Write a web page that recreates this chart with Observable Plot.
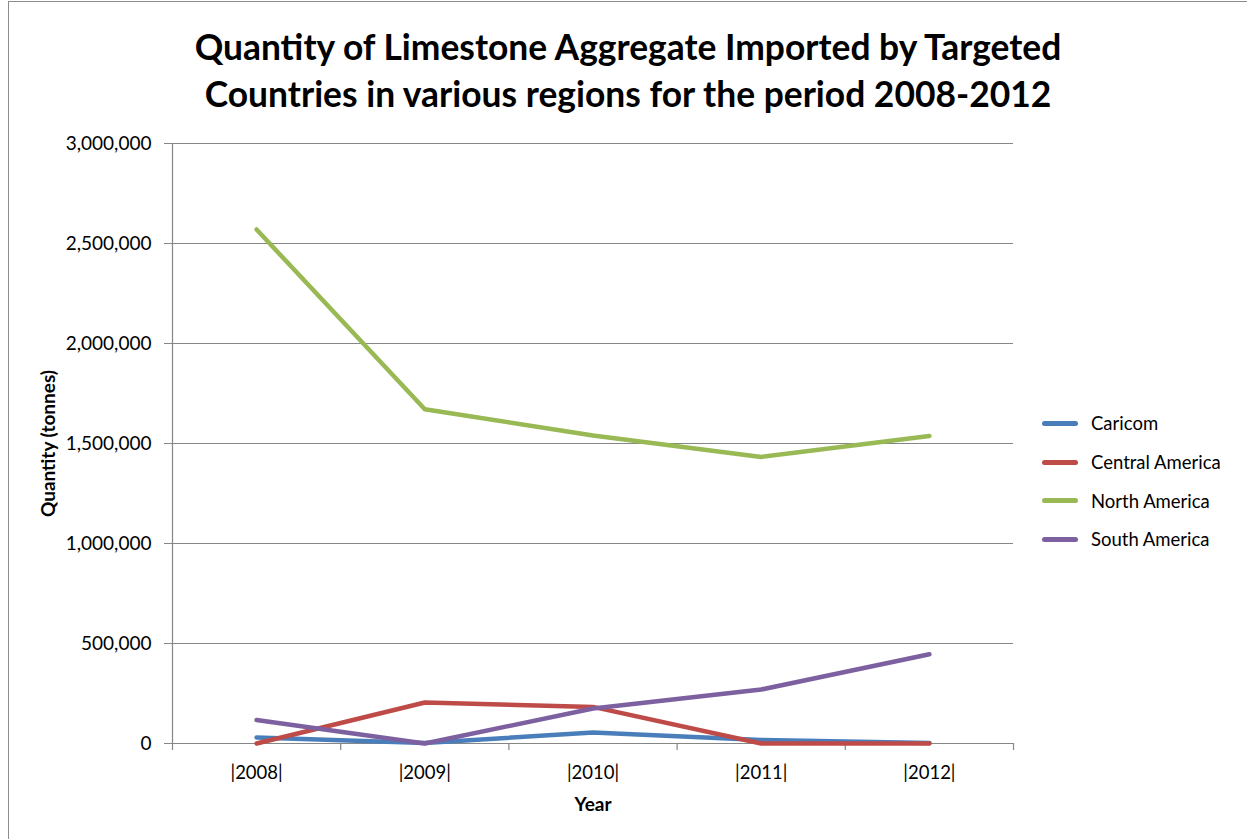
<!DOCTYPE html>
<html>
<head>
<meta charset="utf-8">
<script src="https://cdn.jsdelivr.net/npm/d3@7"></script>
<script src="https://cdn.jsdelivr.net/npm/@observablehq/plot@0.6"></script>
<style>
  html, body { margin: 0; padding: 0; background: #fff; }
  #chart { position: relative; width: 1247px; height: 839px; overflow: hidden; font-family: Lato, "Open Sans", sans-serif; }
  #frame { position: absolute; left: 8px; top: 1px; width: 1260px; height: 860px; border: 1px solid #8c8c8c; box-sizing: border-box; }
  #title { position: absolute; left: 0; top: 23px; width: 1256px; text-align: center; font-weight: bold; font-size: 35.4px; line-height: 47px; color: #000; }
  #chart svg { position: absolute; left: 0; top: 0; }
  #legend { position: absolute; left: 1042px; top: 404px; font-size: 18.5px; color: #000; }
  .item { display: flex; align-items: center; height: 38.7px; }
  .swatch { width: 36px; height: 5px; border-radius: 3px; margin-right: 13px; }
</style>
</head>
<body>
<div id="chart">
  <div id="frame"></div>
  <div id="title">Quantity of Limestone Aggregate Imported by Targeted<br>Countries in various regions for the period 2008-2012</div>
  <div id="legend"></div>
</div>
<script>
// Years and import quantities (tonnes) for each region
const years = [2008, 2009, 2010, 2011, 2012];
const regions = ["Caricom", "Central America", "North America", "South America"];
const colors = ["#4a7ebb", "#be4b48", "#98b954", "#7d60a0"];
const caricom = [30000, 2000, 55000, 18000, 3000];
const centralAmerica = [0, 205000, 183000, 0, 0];
const northAmerica = [2570000, 1671000, 1540000, 1433000, 1538000];
const southAmerica = [117000, 0, 175000, 270000, 446000];
const yTicks = [0, 500000, 1000000, 1500000, 2000000, 2500000, 3000000];

const seriesValues = [caricom, centralAmerica, northAmerica, southAmerica];
const rows = regions.flatMap((region, i) =>
  years.map((year, j) => ({region, year, value: seriesValues[i][j]}))
);
// category boundaries between the years, where the x-axis ticks sit
const boundaries = d3.range(years[0] - 0.5, years[years.length - 1] + 1, 1);

const gridColor = "#868686";

const plot = Plot.plot({
  width: 1247,
  height: 839,
  marginLeft: 172,
  marginRight: 234,
  marginTop: 143,
  marginBottom: 96,
  style: {fontFamily: "Lato, 'Open Sans', sans-serif", fontSize: "19px", color: "#000", background: "transparent"},
  x: {domain: [years[0] - 0.5, years[years.length - 1] + 0.5]},
  y: {domain: [0, 3000000]},
  color: {domain: regions, range: colors},
  marks: [
    Plot.ruleY(yTicks, {stroke: gridColor, strokeWidth: 1.2}),
    Plot.ruleX([years[0] - 0.5], {stroke: gridColor, strokeWidth: 1.2}),
    Plot.axisY({ticks: yTicks, tickFormat: d3.format(","), tickSize: 8, tickPadding: 13, stroke: gridColor, label: null}),
    Plot.axisX({ticks: years, tickFormat: d => `|${d}|`, tickSize: 0, tickPadding: 22, label: null, fontSize: 18.5}),
    // short ticks hanging below the zero line at each category boundary
    Plot.ruleX(boundaries, {x: d => d, y1: 0, y2: 0, insetBottom: -7, stroke: gridColor, strokeWidth: 1.2}),
    Plot.line(rows, {x: "year", y: "value", z: "region", stroke: "region", strokeWidth: 4.5, strokeLinejoin: "round", strokeLinecap: "round"}),
    Plot.text(["Year"], {frameAnchor: "bottom", dy: 67, fontWeight: "bold", fontSize: 19}),
    Plot.text(["Quantity (tonnes)"], {frameAnchor: "left", textAnchor: "middle", dx: -124, rotate: -90, fontWeight: "bold", fontSize: 19})
  ]
});

document.getElementById("chart").appendChild(plot);

const legend = document.getElementById("legend");
regions.forEach((r, i) => {
  const item = document.createElement("div");
  item.className = "item";
  item.innerHTML = `<span class="swatch" style="background:${colors[i]}"></span><span>${r}</span>`;
  legend.appendChild(item);
});
</script>
</body>
</html>
